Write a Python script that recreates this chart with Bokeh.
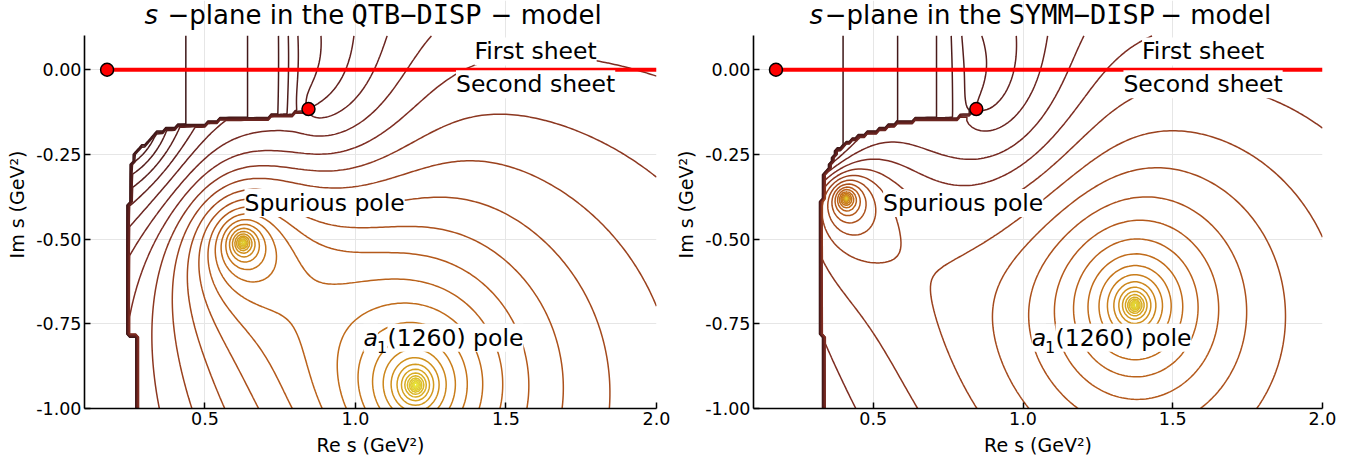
import numpy as np
from bokeh.plotting import figure
from bokeh.layouts import row
from bokeh.models import Label, Range1d, FixedTicker
from bokeh.embed import file_html
from bokeh.resources import INLINE

# ---------------- axes / ticks ----------------
x_ticks = [0.5, 1.0, 1.5, 2.0]
x_tick_labels = ["0.5", "1.0", "1.5", "2.0"]
y_ticks = [-1.0, -0.75, -0.5, -0.25, 0.0]
y_tick_labels = ["-1.00", "-0.75", "-0.50", "-0.25", "0.00"]
x_lim = (0.1, 2.0)
y_lim = (-1.0, 0.1)

# ---------------- thresholds (red dots) and real axis ----------------
dot_re = [0.175, 0.844]
dot_im = [0.0, -0.116]
sheet_line_re = [0.175, 2.0]
sheet_line_im = [0.0, 0.0]

# ---------------- QTB-DISP panel ----------------
qtb_pole_re = [0.626, 1.200]
qtb_pole_im = [-0.511, -0.931]
qtb_zero_re = 0.215
qtb_zero_im = -0.155
qtb_cut_re = [0.844, 0.79, 0.725, 0.70, 0.55, 0.535, 0.45, 0.40, 0.34, 0.305, 0.27, 0.252, 0.248, 0.248, 0.274, 0.274]
qtb_cut_im = [-0.116, -0.133, -0.135, -0.145, -0.150, -0.159, -0.162, -0.170, -0.188, -0.218, -0.245, -0.30, -0.50, -0.78, -0.79, -1.0]
qtb_own_q = 1.5

# ---------------- SYMM-DISP panel ----------------
symm_pole_re = [0.409, 1.373]
symm_pole_im = [-0.381, -0.695]
symm_zero_re = 0.295
symm_zero_im = -0.205
symm_cut_re = [0.846, 0.82, 0.732, 0.638, 0.571, 0.52, 0.477, 0.422, 0.378, 0.362, 0.339, 0.334, 0.323, 0.323, 0.339, 0.339]
symm_cut_im = [-0.116, -0.135, -0.147, -0.150, -0.160, -0.179, -0.187, -0.213, -0.238, -0.272, -0.307, -0.376, -0.39, -0.784, -0.794, -1.0]
symm_own_q = 1.9

# ---------------- contour settings ----------------
level_start = -2.0
level_step = 0.27
level_count = 33
kappa = -0.13       # phase winding around the branch point
gamma = 0.35
dip_depth = 0.8     # smooth dip of |T| around the branch point
dip_width = 0.33
own_a = -1.90
blend_width = 0.13
grid_x = np.linspace(0.1, 2.0, 191)
grid_y = np.linspace(-1.0, 0.1, 111)

# colour of a contour as a function of its level
color_level = [-2.0, -1.0, 0.0, 0.7, 1.3, 2.0, 2.8, 3.6, 4.4, 5.3, 6.7]
color_hex = ["#361416", "#4c1b1b", "#662320", "#7e2d22", "#9e441e", "#b3571b",
             "#c4721a", "#cf8e1c", "#d8aa22", "#e0cc30", "#e8e43c"]


def level_color(z):
    rgb = [np.array([int(h[i:i + 2], 16) for i in (1, 3, 5)], float) for h in color_hex]
    z = min(max(z, color_level[0]), color_level[-1])
    for i in range(len(color_level) - 1):
        if z <= color_level[i + 1]:
            f = (z - color_level[i]) / (color_level[i + 1] - color_level[i])
            c = rgb[i] * (1 - f) + rgb[i + 1] * f
            return "#%02x%02x%02x" % tuple(int(round(v)) for v in c)
    return color_hex[-1]


levels = [level_start + k * level_step for k in range(level_count)]
level_colors = [level_color(z) for z in levels]


def inside_polygon(px, py, vx, vy):
    res = np.zeros(px.shape, dtype=bool)
    n = len(vx)
    j = n - 1
    for i in range(n):
        xi, yi, xj, yj = vx[i], vy[i], vx[j], vy[j]
        if yi != yj:
            cross = ((yi > py) != (yj > py)) & (px < (xj - xi) * (py - yi) / (yj - yi) + xi)
            res ^= cross
        j = i
    return res


def smoothstep(t):
    t = np.clip(t, 0, 1)
    return t * t * (3 - 2 * t)


def field(pole_re, pole_im, zero_re, zero_im, br_re, br_im, cut_re, cut_im, own_q):
    X, Y = np.meshgrid(grid_x, grid_y)
    S = X + 1j * Y
    b = complex(br_re, br_im)
    zp = (np.log(np.abs(S - complex(zero_re, zero_im))) + gamma * X
          - dip_depth * np.exp(-np.abs(S - b) ** 2 / dip_width ** 2))
    for pr, pi in zip(pole_re, pole_im):
        zp = zp - np.log(np.abs(S - complex(pr, pi)))
    theta = np.angle(S - b)
    vx = np.array(list(cut_re) + [cut_re[-1], -1.0, -1.0, br_re])
    vy = np.array(list(cut_im) + [-2.0, -2.0, 2.0, 2.0])
    U = inside_polygon(X, Y, vx, vy)
    phi = np.where(theta < 0, theta + 2 * np.pi, theta)
    zB = zp + kappa * theta
    zUa = zp + kappa * phi
    zown = own_a + own_q * (X - 0.1) ** 2
    w = smoothstep((br_re - X) / blend_width)
    zU = w * zown + (1 - w) * zUa
    return np.where(U, zU, zB)


FONT = "DejaVu Sans"
PX_PER_Y = 339.0
TOP_PAD = 35.4 / PX_PER_Y


def ylab(y, size_px):
    return y + 0.383 * size_px / PX_PER_Y


def make_panel(width, border_left, border_right, Z, title_parts, ann):
    p = figure(width=width, height=466, x_range=Range1d(*x_lim),
               y_range=Range1d(y_lim[0], y_lim[1] + TOP_PAD),
               output_backend="svg", toolbar_location=None,
               min_border_left=border_left, min_border_right=border_right,
               min_border_top=0, min_border_bottom=58)
    p.outline_line_color = None
    p.background_fill_color = "white"
    p.border_fill_color = "white"

    p.contour(x=grid_x, y=grid_y, z=Z, levels=levels, line_color=level_colors, line_width=1.5)

    p.line(sheet_line_re, sheet_line_im, line_color="#ff0000", line_width=4)
    p.scatter(dot_re, dot_im, size=13, fill_color="#ff0000", line_color="black", line_width=1.5)

    p.xaxis.ticker = FixedTicker(ticks=x_ticks)
    p.yaxis.ticker = FixedTicker(ticks=y_ticks)
    p.xaxis.major_label_overrides = dict(zip(x_ticks, x_tick_labels))
    p.yaxis.major_label_overrides = dict(zip(y_ticks, y_tick_labels))
    p.yaxis.bounds = y_lim
    p.xaxis.axis_label = "Re s (GeV²)"
    p.yaxis.axis_label = "Im s (GeV²)"
    for ax in (p.xaxis, p.yaxis):
        ax.axis_line_color = "black"
        ax.axis_line_width = 1.6
        ax.major_tick_in = 6
        ax.major_tick_out = 0
        ax.major_tick_line_color = "black"
        ax.major_tick_line_width = 1.5
        ax.minor_tick_line_color = None
        ax.major_label_text_font = FONT
        ax.major_label_text_font_size = "17.5px"
        ax.major_label_text_color = "black"
        ax.major_label_standoff = 3
        ax.axis_label_text_font = FONT
        ax.axis_label_text_font_size = "19px"
        ax.axis_label_text_font_style = "normal"
        ax.axis_label_text_color = "black"
    p.xaxis.axis_label_standoff = 6
    p.yaxis.axis_label_standoff = 5
    p.grid.grid_line_color = "#e6e6e6"
    p.grid.grid_line_width = 1
    p.xgrid.bounds = y_lim

    for (txt, x, font, size, style) in title_parts:
        p.add_layout(Label(x=x, y=ylab(0.1336, size), text=txt, text_font=font,
                           text_font_size="%gpx" % size, text_font_style=style,
                           text_baseline="alphabetic", text_align="left", text_color="black"))
    for (txt, x, y, size, style) in ann:
        p.add_layout(Label(x=x, y=ylab(y, size), text=txt, text_font=FONT,
                           text_font_size="%gpx" % size, text_font_style=style,
                           text_baseline="alphabetic", text_align="left",
                           text_color="black", background_fill_color="white",
                           background_fill_alpha=1.0))
    return p


Z1 = field(qtb_pole_re, qtb_pole_im, qtb_zero_re, qtb_zero_im, dot_re[1], dot_im[1],
           qtb_cut_re, qtb_cut_im, qtb_own_q)
Z2 = field(symm_pole_re, symm_pole_im, symm_zero_re, symm_zero_im, dot_re[1], dot_im[1],
           symm_cut_re, symm_cut_im, symm_own_q)

title1 = [("s", 0.2993, FONT, 26, "italic"),
          ("−plane in the", 0.3757, FONT, 26, "normal"),
          ("QTB−DISP", 0.987, "DejaVu Sans Mono", 27, "normal"),
          ("− model", 1.449, FONT, 26, "normal")]
title2 = [("s", 0.287, FONT, 26, "italic"),
          ("−plane in the", 0.3375, FONT, 26, "normal"),
          ("SYMM−DISP", 0.952, "DejaVu Sans Mono", 27, "normal"),
          ("− model", 1.458, FONT, 26, "normal")]

ann1 = [("First sheet", 1.3954, 0.0274, 23.5, "normal"),
        ("Second sheet", 1.3340, -0.069, 23.5, "normal"),
        ("Spurious pole", 0.6315, -0.42, 23.5, "normal"),
        ("a", 1.0267, -0.818, 23.5, "italic"),
        ("1", 1.0716, -0.8357, 16, "normal"),
        ("(1260) pole", 1.1065, -0.818, 23.5, "normal")]
ann2 = [("First sheet", 1.3975, 0.0274, 23.5, "normal"),
        ("Second sheet", 1.3353, -0.069, 23.5, "normal"),
        ("Spurious pole", 0.5328, -0.42, 23.5, "normal"),
        ("a", 1.0288, -0.818, 23.5, "italic"),
        ("1", 1.0737, -0.8357, 16, "normal"),
        ("(1260) pole", 1.1086, -0.818, 23.5, "normal")]

p1 = make_panel(672, 84, 16, Z1, title1, ann1)
p2 = make_panel(687, 78, 37, Z2, title2, ann2)

layout = row(p1, p2)
open("out.html", "w").write(file_html(layout, INLINE))
